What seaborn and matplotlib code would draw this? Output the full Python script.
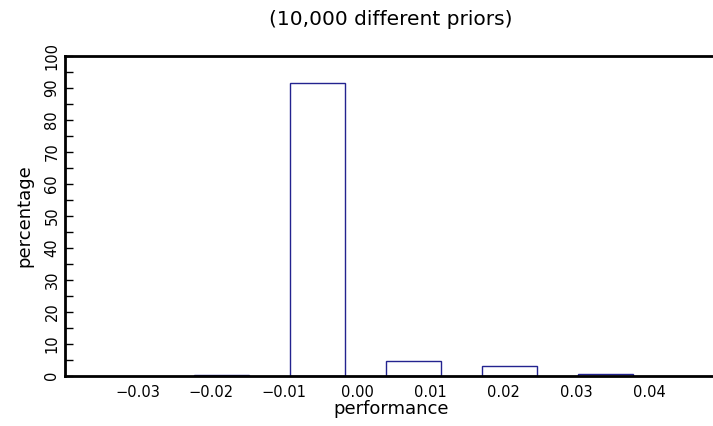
import matplotlib
matplotlib.use("Agg")
import matplotlib.pyplot as plt
import seaborn as sns
import numpy as np
import pandas as pd
from matplotlib.ticker import MultipleLocator, FixedLocator

# ---- data ----
bin_centers = [-0.0186, -0.0055, 0.0077, 0.0208, 0.0339]
percentages = [0.2, 91.5, 4.6, 2.9, 0.5]
x_tick_values = [-0.03, -0.02, -0.01, 0.00, 0.01, 0.02, 0.03, 0.04]
x_tick_labels = ["\u22120.03", "\u22120.02", "\u22120.01", "0.00", "0.01", "0.02", "0.03", "0.04"]
y_tick_values = [0, 10, 20, 30, 40, 50, 60, 70, 80, 90, 100]
title_text = "(10,000 different priors)"
x_label = "performance"
y_label = "percentage"

sns.set_style("white")
plt.rcParams["font.family"] = ["DejaVu Sans"]
plt.rcParams["text.color"] = "black"
plt.rcParams["axes.labelcolor"] = "black"
plt.rcParams["xtick.color"] = "black"
plt.rcParams["ytick.color"] = "black"

df = pd.DataFrame({"performance": bin_centers, "percentage": percentages})

fig = plt.figure(figsize=(7.13, 4.26), dpi=100)
ax = fig.add_axes([65 / 713, 50.5 / 426, 652 / 713, 319.5 / 426])

sns.barplot(data=df, x="performance", y="percentage", native_scale=True,
            width=0.575, color="white", edgecolor="#23238f", linewidth=1.0,
            saturation=1, errorbar=None, ax=ax, zorder=2)

ax.set_xlim(-0.0400, 0.0492)
ax.set_ylim(0, 100)

ax.xaxis.set_major_locator(FixedLocator(x_tick_values))
ax.set_xticklabels(x_tick_labels, fontsize=10.5)
ax.tick_params(axis="x", length=0, pad=7, labelcolor="black")

ax.yaxis.set_major_locator(FixedLocator(y_tick_values))
ax.yaxis.set_minor_locator(MultipleLocator(5))
ax.tick_params(axis="y", which="both", direction="in", length=6, width=1,
               left=True, right=False, labelsize=10.5, pad=4, color="black",
               labelcolor="black")
for lbl in ax.get_yticklabels():
    lbl.set_rotation(90)
    lbl.set_va("center")

ax.set_xlabel(x_label, fontsize=13, labelpad=0, color="black")
ax.set_ylabel(y_label, fontsize=13, labelpad=8, color="black")
ax.set_title(title_text, fontsize=14.5, pad=22, color="black")

for side in ["left", "top", "bottom"]:
    ax.spines[side].set_visible(True)
    ax.spines[side].set_linewidth(2)
    ax.spines[side].set_color("black")
    ax.spines[side].set_zorder(3)
ax.spines["right"].set_visible(False)

fig.savefig("out.png", dpi=100)
